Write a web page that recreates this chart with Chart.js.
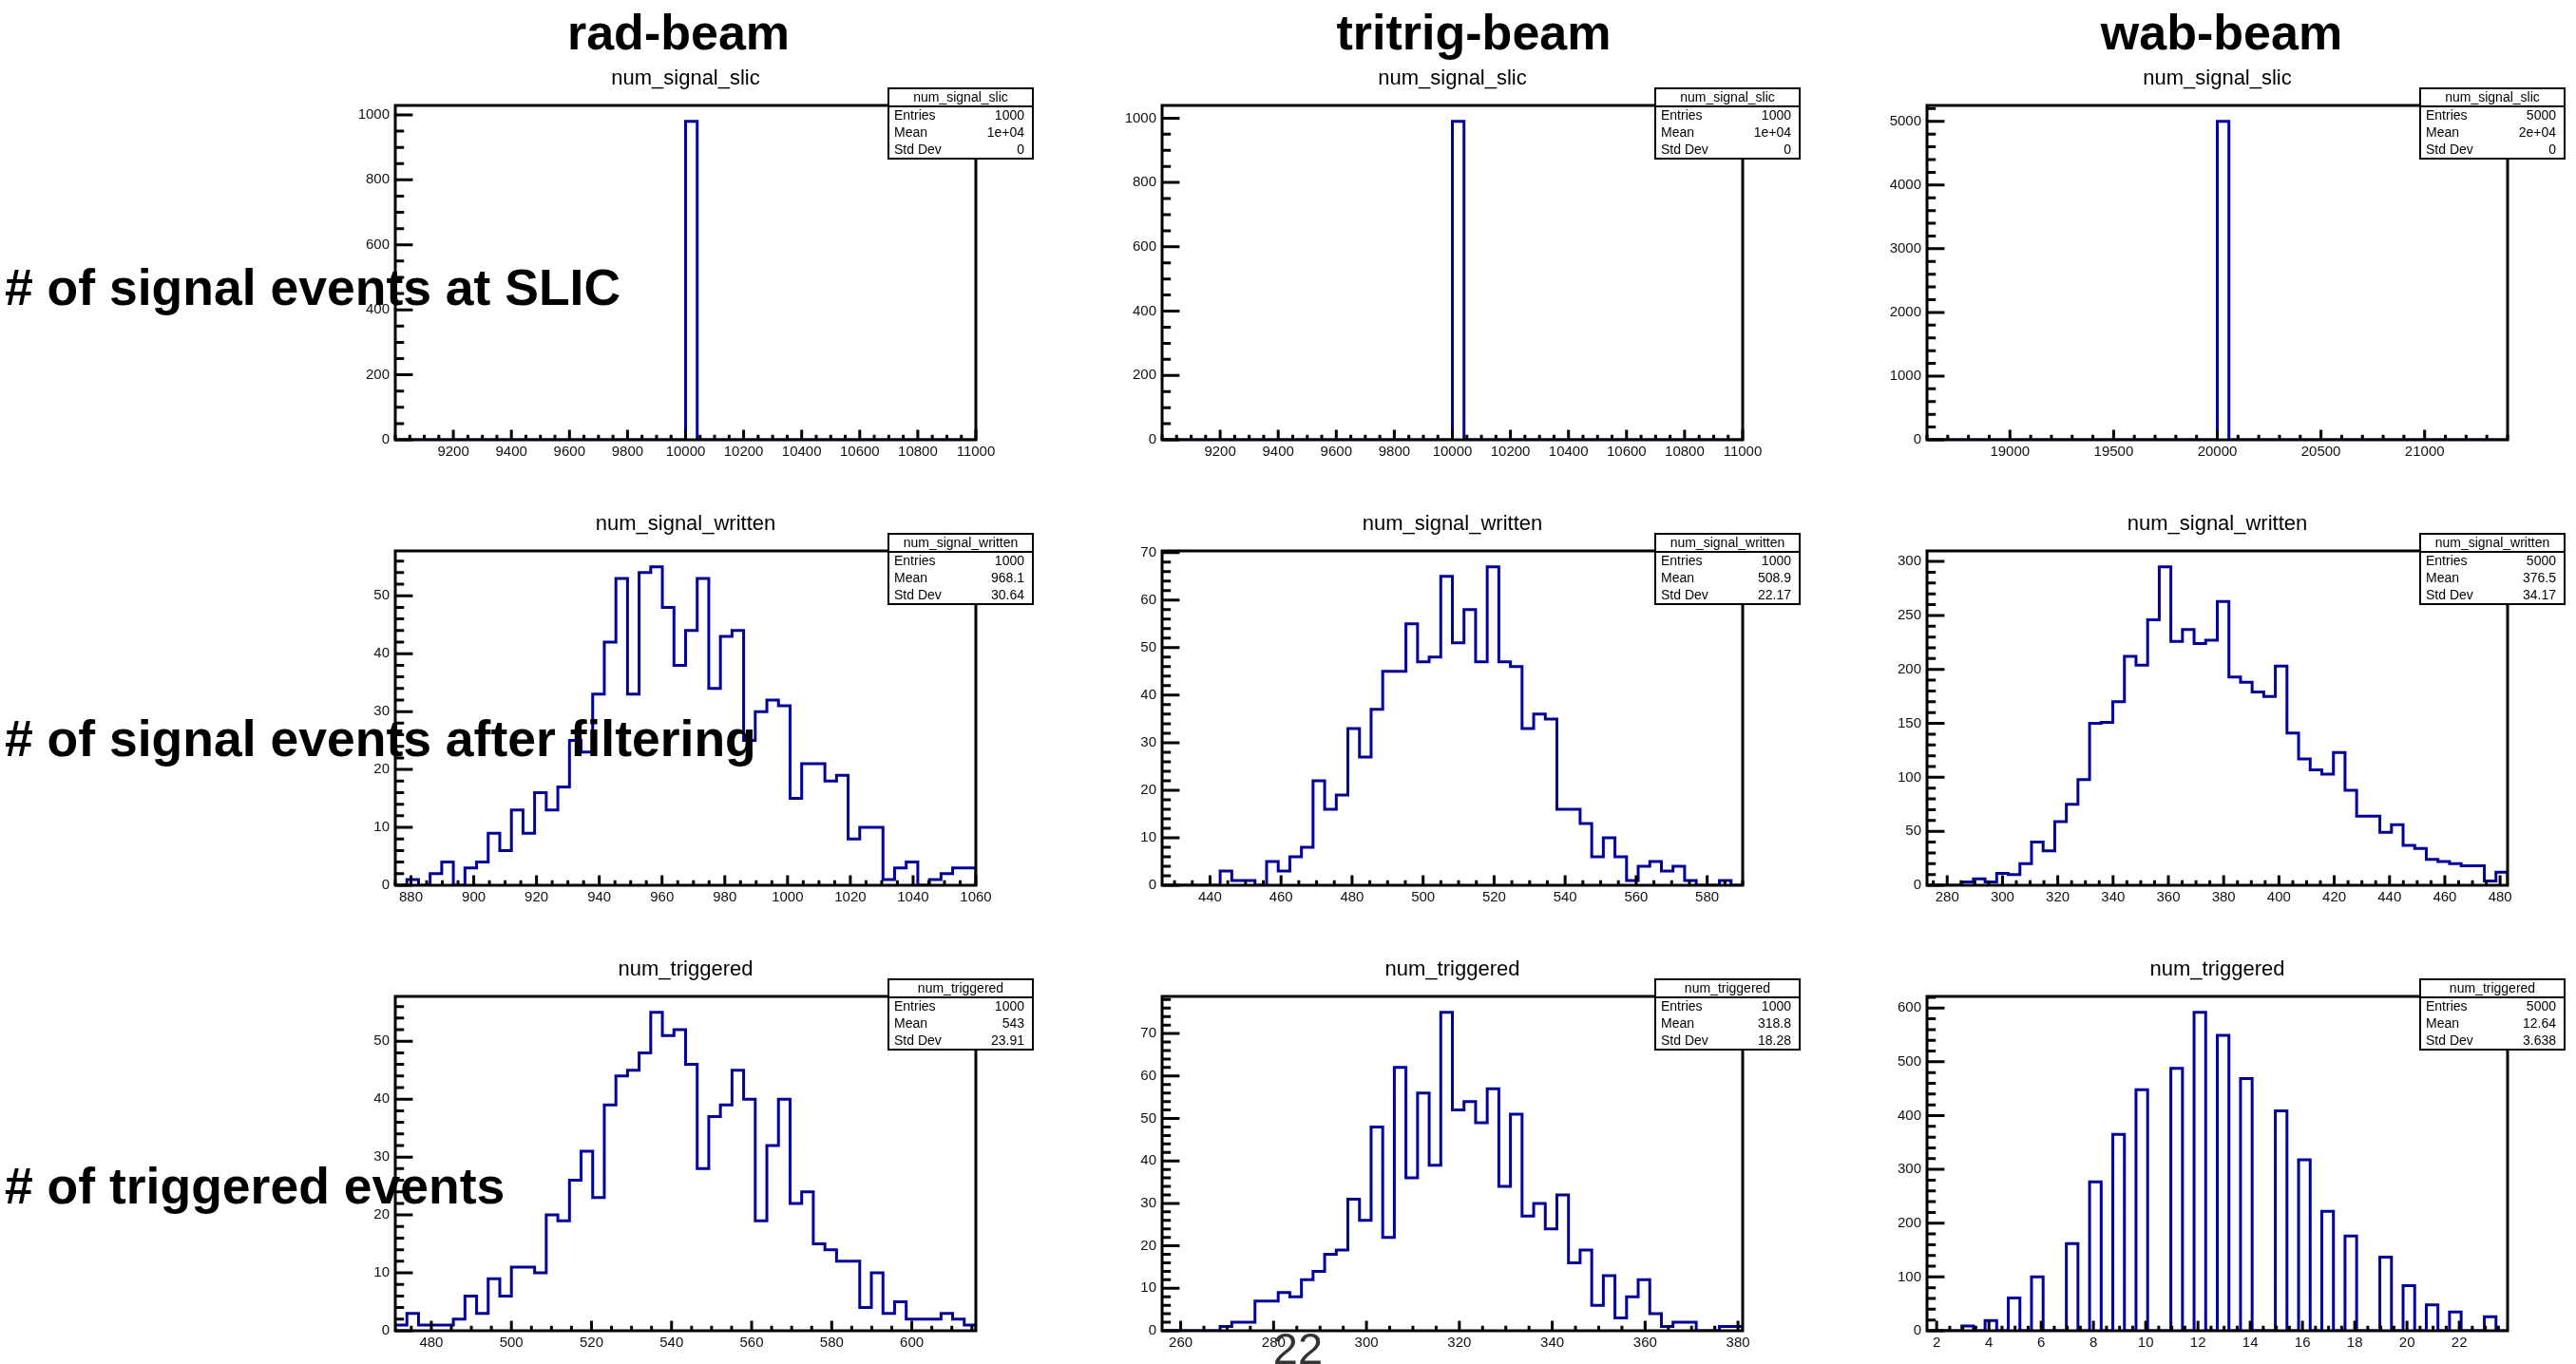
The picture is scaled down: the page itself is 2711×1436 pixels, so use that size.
<!DOCTYPE html>
<html>
<head>
<meta charset="utf-8">
<script src="https://cdn.jsdelivr.net/npm/chart.js"></script>
<style>
  html, body { margin: 0; padding: 0; background: #fff; }
  body { width: 2711px; height: 1436px; overflow: hidden; position: relative; font-family: 'Liberation Sans', Arial, sans-serif; }
  canvas { position: absolute; }
  .lab { position: absolute; white-space: nowrap; line-height: 1; color: #000; z-index: 5; }
  .col { font-weight: bold; font-size: 52px; transform: translateX(-50%); }
  .row { font-weight: bold; font-size: 53.5px; }
  .page { font-size: 47px; color: #333; transform: translateX(-50%); }
</style>
</head>
<body>
<script>
// ---- histogram contents (50 bins each) ----
const radSlic    = [0,0,0,0,0,0,0,0,0,0,0,0,0,0,0,0,0,0,0,0,0,0,0,0,0,980,0,0,0,0,0,0,0,0,0,0,0,0,0,0,0,0,0,0,0,0,0,0,0,0];
const triSlic    = [0,0,0,0,0,0,0,0,0,0,0,0,0,0,0,0,0,0,0,0,0,0,0,0,0,990,0,0,0,0,0,0,0,0,0,0,0,0,0,0,0,0,0,0,0,0,0,0,0,0];
const wabSlic    = [0,0,0,0,0,0,0,0,0,0,0,0,0,0,0,0,0,0,0,0,0,0,0,0,0,5000,0,0,0,0,0,0,0,0,0,0,0,0,0,0,0,0,0,0,0,0,0,0,0,0];
const radWritten = [0,1,0,2,4,0,3,4,9,6,13,9,16,13,17,25,23,33,42,53,33,54,55,48,38,44,53,34,43,44,25,30,32,31,15,21,21,18,19,8,10,10,1,3,4,0,1,2,3,3];
const triWritten = [0,0,0,0,0,3,1,1,0,5,3,6,8,22,16,19,33,27,37,45,45,55,47,48,65,51,58,47,67,47,46,33,36,35,16,16,13,6,10,6,1,4,5,3,4,1,0,0,1,0];
const wabWritten = [0,0,0,3,6,3,11,10,20,40,32,59,75,98,150,151,170,212,204,246,295,226,237,224,227,263,193,188,179,175,203,141,117,107,103,123,88,64,64,49,56,37,34,24,22,20,18,18,4,12];
const radTrig    = [1,3,1,1,1,2,6,3,9,6,11,11,10,20,19,26,31,23,39,44,45,48,55,51,52,46,28,37,39,45,40,19,32,40,22,24,15,14,12,12,4,10,3,5,2,2,2,3,2,1];
const triTrig    = [0,0,0,0,0,1,2,2,7,7,9,8,12,14,18,19,31,26,48,22,62,36,56,39,75,52,54,49,57,34,51,27,30,24,32,16,19,6,13,3,8,12,4,1,2,2,0,0,1,1];
const wabTrig    = [0,0,0,9,0,19,0,61,0,100,0,0,162,0,277,0,365,0,448,0,0,488,0,592,0,549,0,469,0,0,409,0,318,0,222,0,176,0,0,137,0,84,0,48,0,35,0,0,26,0];

// ---- axis tick labels ----
const slicX    = [9200,9400,9600,9800,10000,10200,10400,10600,10800,11000];
const slicY    = [0,200,400,600,800,1000];
const wabSlicX = [19000,19500,20000,20500,21000];
const wabSlicY = [0,1000,2000,3000,4000,5000];
const radWrX   = [880,900,920,940,960,980,1000,1020,1040,1060];
const radWrY   = [0,10,20,30,40,50];
const triWrX   = [440,460,480,500,520,540,560,580];
const triWrY   = [0,10,20,30,40,50,60,70];
const wabWrX   = [280,300,320,340,360,380,400,420,440,460,480];
const wabWrY   = [0,50,100,150,200,250,300];
const radTrX   = [480,500,520,540,560,580,600];
const radTrY   = [0,10,20,30,40,50];
const triTrX   = [260,280,300,320,340,360,380];
const triTrY   = [0,10,20,30,40,50,60,70];
const wabTrX   = [2,4,6,8,10,12,14,16,18,20,22];
const wabTrY   = [0,100,200,300,400,500,600];

// ---- page text ----
const colTitles = ['rad-beam', 'tritrig-beam', 'wab-beam'];
const rowTitles = ['# of signal events at SLIC', '# of signal events after filtering', '# of triggered events'];
const pageNumber = '22';

const panels = [
  {row:0, col:0, name:'num_signal_slic', counts:radSlic, xmin:9000, xmax:11000, xTicks:slicX, xMinor:50, yTicks:slicY, yMinor:50, stats:['1000','1e+04','0']},
  {row:0, col:1, name:'num_signal_slic', counts:triSlic, xmin:9000, xmax:11000, xTicks:slicX, xMinor:50, yTicks:slicY, yMinor:50, stats:['1000','1e+04','0']},
  {row:0, col:2, name:'num_signal_slic', counts:wabSlic, xmin:18600, xmax:21400, xTicks:wabSlicX, xMinor:100, yTicks:wabSlicY, yMinor:200, stats:['5000','2e+04','0']},
  {row:1, col:0, name:'num_signal_written', counts:radWritten, xmin:875, xmax:1060, xTicks:radWrX, xMinor:5, yTicks:radWrY, yMinor:2, stats:['1000','968.1','30.64']},
  {row:1, col:1, name:'num_signal_written', counts:triWritten, xmin:426.5, xmax:590, xTicks:triWrX, xMinor:5, yTicks:triWrY, yMinor:2, stats:['1000','508.9','22.17']},
  {row:1, col:2, name:'num_signal_written', counts:wabWritten, xmin:272.7, xmax:482.7, xTicks:wabWrX, xMinor:5, yTicks:wabWrY, yMinor:10, stats:['5000','376.5','34.17']},
  {row:2, col:0, name:'num_triggered', counts:radTrig, xmin:471, xmax:616, xTicks:radTrX, xMinor:5, yTicks:radTrY, yMinor:2, stats:['1000','543','23.91']},
  {row:2, col:1, name:'num_triggered', counts:triTrig, xmin:256, xmax:381, xTicks:triTrX, xMinor:5, yTicks:triTrY, yMinor:2, stats:['1000','318.8','18.28']},
  {row:2, col:2, name:'num_triggered', counts:wabTrig, xmin:1.63, xmax:23.85, xTicks:wabTrX, xMinor:0.5, yTicks:wabTrY, yMinor:20, stats:['5000','12.64','3.638']}
];

// frame placement on the page
const frameLeft = [416, 1223, 2028];
const frameTop = [111, 580, 1049];
const frameW = 611, frameH = 352;
const padL = 60, padT = 50, padR = 66, padB = 30;

Chart.defaults.font.family = "'Liberation Sans', Arial, sans-serif";

// ROOT-like frame, inward ticks, title and stats box
const rootStyle = {
  id: 'rootStyle',
  afterDraw(chart, args, o) {
    const ctx = chart.ctx, a = chart.chartArea;
    const xs = chart.scales.x, ys = chart.scales.y;
    ctx.save();
    ctx.strokeStyle = '#000';
    ctx.lineWidth = 3;
    ctx.lineCap = 'butt';
    ctx.beginPath();
    let k0 = Math.ceil(xs.min / o.xMinor - 1e-6), k1 = Math.floor(xs.max / o.xMinor + 1e-6);
    for (let k = k0; k <= k1; k++) {
      const v = k * o.xMinor;
      const major = o.xTicks.some(t => Math.abs(t - v) < o.xMinor / 10);
      const px = xs.getPixelForValue(v);
      ctx.moveTo(px, a.bottom);
      ctx.lineTo(px, a.bottom - (major ? 10.6 : 5.3));
    }
    k0 = Math.ceil(ys.min / o.yMinor - 1e-6); k1 = Math.floor(ys.max / o.yMinor + 1e-6);
    for (let k = k0; k <= k1; k++) {
      const v = k * o.yMinor;
      const major = o.yTicks.some(t => Math.abs(t - v) < o.yMinor / 10);
      const py = ys.getPixelForValue(v);
      ctx.moveTo(a.left, py);
      ctx.lineTo(a.left + (major ? 18.4 : 9.2), py);
    }
    ctx.stroke();
    ctx.strokeRect(a.left, a.top, a.right - a.left, a.bottom - a.top);

    // title
    ctx.fillStyle = '#000';
    ctx.font = "22px 'Liberation Sans', Arial, sans-serif";
    ctx.textAlign = 'center';
    ctx.textBaseline = 'middle';
    ctx.fillText(o.name, (a.left + a.right) / 2, a.top - 28);

    // stats box
    const bx = a.right - 92, by = a.top - 18, bw = 152, bh = 74;
    ctx.fillStyle = '#fff';
    ctx.fillRect(bx, by, bw, bh);
    ctx.lineWidth = 2;
    ctx.strokeRect(bx, by, bw, bh);
    ctx.beginPath();
    ctx.moveTo(bx, a.top + 1);
    ctx.lineTo(bx + bw, a.top + 1);
    ctx.stroke();
    ctx.fillStyle = '#000';
    ctx.font = "14px 'Liberation Sans', Arial, sans-serif";
    ctx.fillText(o.name, bx + bw / 2, a.top - 8);
    const names = ['Entries', 'Mean', 'Std Dev'];
    for (let i = 0; i < 3; i++) {
      const ty = a.top + 11 + i * 18;
      ctx.textAlign = 'left';
      ctx.fillText(names[i], bx + 6, ty);
      ctx.textAlign = 'right';
      ctx.fillText(o.stats[i], bx + bw - 9, ty);
    }
    ctx.restore();
  }
};

function outline(counts, xmin, xmax) {
  const w = (xmax - xmin) / counts.length;
  const pts = [{x: xmin, y: 0}];
  for (let i = 0; i < counts.length; i++) {
    pts.push({x: xmin + i * w, y: counts[i]});
  }
  pts.push({x: xmax, y: counts[counts.length - 1]});
  pts.push({x: xmax, y: 0});
  return pts;
}

panels.forEach(function (p) {
  const cv = document.createElement('canvas');
  const W = padL + frameW + padR, H = padT + frameH + padB;
  cv.width = W; cv.height = H;
  cv.style.width = W + 'px'; cv.style.height = H + 'px';
  cv.style.left = (frameLeft[p.col] - padL) + 'px';
  cv.style.top = (frameTop[p.row] - padT) + 'px';
  document.body.appendChild(cv);

  const ymax = Math.max.apply(null, p.counts) * 1.05;
  const tickFont = {size: 15};

  new Chart(cv, {
    type: 'line',
    data: {
      datasets: [{
        data: outline(p.counts, p.xmin, p.xmax),
        stepped: 'before',
        borderColor: '#000099',
        borderWidth: 3,
        borderJoinStyle: 'miter',
        pointRadius: 0,
        fill: false,
        tension: 0
      }]
    },
    options: {
      responsive: false,
      animation: false,
      devicePixelRatio: 1,
      layout: {padding: {left: 0, top: padT, right: padR, bottom: 0}},
      plugins: {
        legend: {display: false},
        tooltip: {enabled: false},
        rootStyle: {name: p.name, stats: p.stats, xTicks: p.xTicks, yTicks: p.yTicks, xMinor: p.xMinor, yMinor: p.yMinor}
      },
      scales: {
        x: {
          type: 'linear', min: p.xmin, max: p.xmax,
          grid: {display: false, drawTicks: false},
          border: {display: false},
          afterBuildTicks: s => { s.ticks = p.xTicks.map(v => ({value: v})); },
          afterFit: s => { s.height = padB; },
          ticks: {font: tickFont, color: '#111', padding: 4, maxRotation: 0, autoSkip: false, callback: v => String(v)}
        },
        y: {
          type: 'linear', min: 0, max: ymax,
          grid: {display: false, drawTicks: false},
          border: {display: false},
          afterBuildTicks: s => { s.ticks = p.yTicks.map(v => ({value: v})); },
          afterFit: s => { s.width = padL; },
          ticks: {font: tickFont, color: '#111', padding: 6, autoSkip: false, callback: v => String(v)}
        }
      }
    },
    plugins: [rootStyle]
  });
});

// page text on top of the plots
function addLabel(text, cls, left, top) {
  const d = document.createElement('div');
  d.className = 'lab ' + cls;
  d.textContent = text;
  d.style.left = left + 'px';
  d.style.top = top + 'px';
  document.body.appendChild(d);
}
const colCenters = [714, 1551, 2338];
colTitles.forEach((t, i) => addLabel(t, 'col', colCenters[i], 8));
const rowTops = [276, 751, 1222];
rowTitles.forEach((t, i) => addLabel(t, 'row', 5, rowTops[i]));
addLabel(pageNumber, 'page', 1366, 1396);
</script>
</body>
</html>
